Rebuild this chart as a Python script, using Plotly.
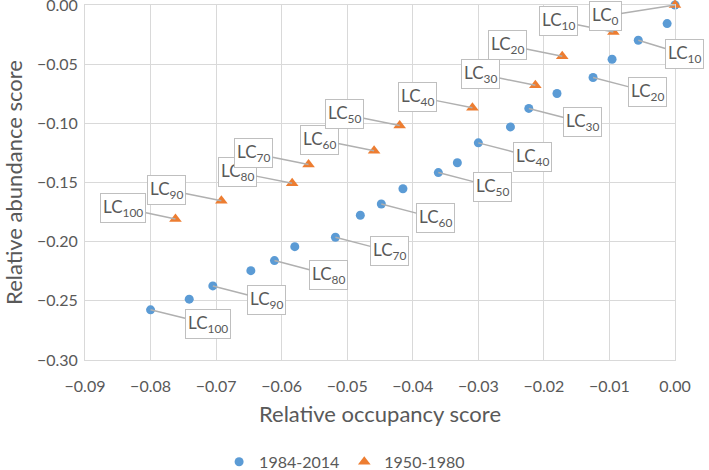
import plotly.graph_objects as go

# ---- data ----
blue_name = "1984-2014"
orange_name = "1950-1980"
blue_levels = [0, 5, 10, 15, 20, 25, 30, 35, 40, 45, 50, 55, 60, 65, 70, 75, 80, 85, 90, 95, 100]
blue_x = [0.0, -0.0012, -0.0056, -0.0096, -0.0125, -0.0180, -0.0223, -0.0251, -0.0300, -0.0332,
          -0.0361, -0.0415, -0.0448, -0.0480, -0.0518, -0.0580, -0.0611, -0.0647, -0.0705, -0.0741, -0.0800]
blue_y = [0.0, -0.0157, -0.0298, -0.0458, -0.0613, -0.0748, -0.0874, -0.1030, -0.1165, -0.1333,
          -0.1416, -0.1553, -0.1682, -0.1777, -0.1963, -0.2042, -0.2160, -0.2245, -0.2374, -0.2486, -0.2576]
blue_labelled = [10, 20, 30, 40, 50, 60, 70, 80, 90, 100]

orange_levels = [0, 10, 20, 30, 40, 50, 60, 70, 80, 90, 100]
orange_x = [0.0, -0.0094, -0.0172, -0.0213, -0.0309, -0.0420, -0.0459, -0.0559, -0.0584, -0.0692, -0.0762]
orange_y = [0.0, -0.0228, -0.0433, -0.0678, -0.0869, -0.1018, -0.1232, -0.1347, -0.1507, -0.1654, -0.1808]

x_ticks = [-0.09, -0.08, -0.07, -0.06, -0.05, -0.04, -0.03, -0.02, -0.01, 0.0]
y_ticks = [-0.30, -0.25, -0.20, -0.15, -0.10, -0.05, 0.0]

# ---- style ----
BLUE = "#5B9BD5"
ORANGE = "#ED7D31"
TXT = "#595959"
GRID = "#D9D9D9"
FONT = "Lato, 'Open Sans', sans-serif"

fig = go.Figure()
fig.add_trace(go.Scatter(x=blue_x, y=blue_y, mode="markers", name=blue_name,
                         marker=dict(color=BLUE, size=9, symbol="circle"), cliponaxis=False))
fig.add_trace(go.Scatter(x=orange_x, y=orange_y, mode="markers", name=orange_name,
                         marker=dict(color=ORANGE, size=11, symbol="triangle-up"), cliponaxis=False))

ann = []
def label(x, y, lvl, ax, ay):
    ann.append(dict(x=x, y=y, xref="x", yref="y", text=f"LC<sub>{lvl}</sub>",
                    showarrow=True, arrowhead=0, arrowwidth=1.5, arrowcolor="#B0B0B0",
                    ax=ax, ay=ay, bgcolor="white", bordercolor="#BFBFBF", borderwidth=1,
                    borderpad=2, font=dict(family=FONT, size=17, color=TXT)))

for lvl, x, y in zip(blue_levels, blue_x, blue_y):
    if lvl in blue_labelled:
        ax = 46 if lvl == 10 else (57 if lvl == 100 else 54)
        label(x, y, lvl, ax, 14)

# higher levels first so lower-level boxes sit on top (as in the original)
for lvl, x, y in reversed(list(zip(orange_levels, orange_x, orange_y))):
    if lvl == 0:
        label(x, y, lvl, -70, 11)
    else:
        ax = -52 if lvl == 100 else -55
        label(x, y, lvl, ax, -11)

fig.update_layout(
    width=709, height=470,
    margin=dict(l=85, r=34, t=5, b=110, autoexpand=False),
    paper_bgcolor="white", plot_bgcolor="white",
    font=dict(family=FONT, color=TXT),
    annotations=ann,
    showlegend=True,
    legend=dict(orientation="h", x=0.44, xanchor="center",
                y=-0.287, yanchor="middle",
                font=dict(size=16, color=TXT), itemwidth=30),
    xaxis=dict(range=[-0.09, 0.0], tickvals=x_ticks, tickformat=".2f", automargin=False,
               showgrid=True, gridcolor=GRID, gridwidth=1, zeroline=False,
               showline=True, mirror=True, linecolor=GRID, linewidth=1,
               tickfont=dict(size=16, color=TXT), ticks="outside", ticklen=12, tickangle=0,
               tickcolor="rgba(0,0,0,0)", ticklabeloverflow="allow",
               title=dict(text="Relative occupancy score", font=dict(size=22, color=TXT), standoff=12)),
    yaxis=dict(range=[-0.30, 0.0], tickvals=y_ticks, tickformat=".2f", automargin=False,
               showgrid=True, gridcolor=GRID, gridwidth=1, zeroline=False,
               showline=True, mirror=True, linecolor=GRID, linewidth=1,
               tickfont=dict(size=16, color=TXT), ticks="outside", ticklen=3,
               tickcolor="rgba(0,0,0,0)", ticklabeloverflow="allow",
               title=dict(text="Relative abundance score", font=dict(size=22, color=TXT), standoff=16)),
)

fig.write_html("out.html", config={"displayModeBar": False},
               post_script="document.body.style.margin='0';document.body.style.overflow='hidden';")
